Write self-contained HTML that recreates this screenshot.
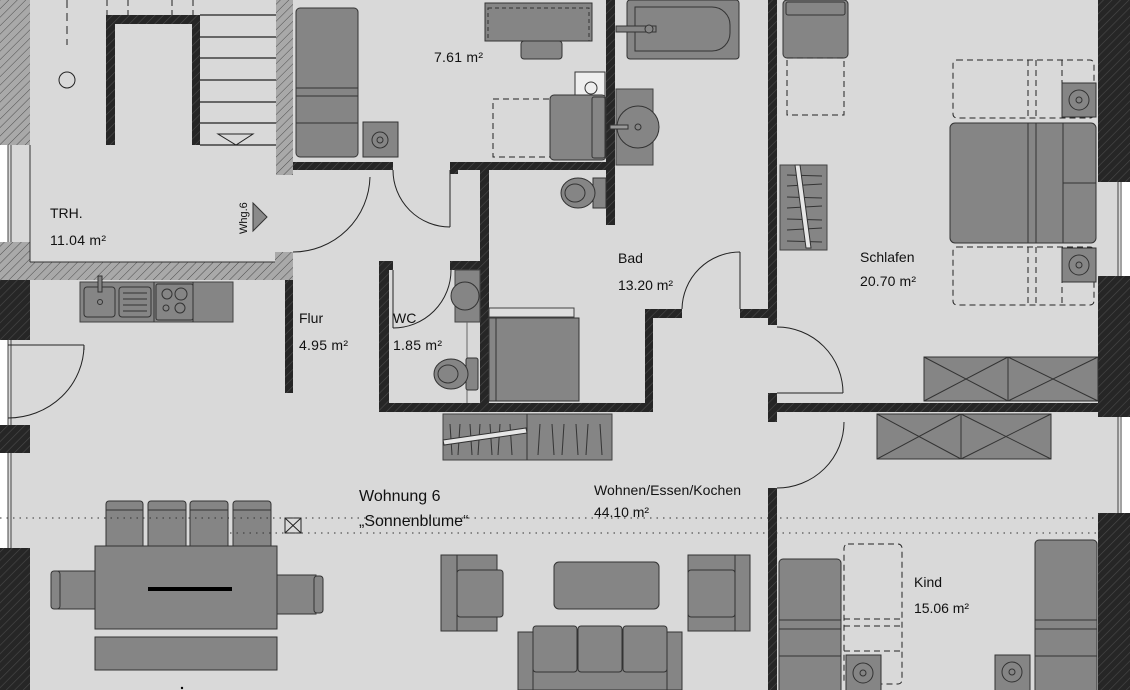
<!DOCTYPE html>
<html><head><meta charset="utf-8"><style>
html,body{margin:0;padding:0;background:#d9d9d9;}
svg{display:block;}
text{font-family:"Liberation Sans",sans-serif;fill:#111;}
</style></head><body>
<svg width="1130" height="690" viewBox="0 0 1130 690" xmlns="http://www.w3.org/2000/svg">
<defs>
<pattern id="dk" patternUnits="userSpaceOnUse" width="6" height="6" patternTransform="rotate(45)">
<rect width="6" height="6" fill="#262626"/><line x1="0" y1="0" x2="0" y2="6" stroke="#4a4a4a" stroke-width="1.2"/></pattern>
<pattern id="lt" patternUnits="userSpaceOnUse" width="6" height="6" patternTransform="rotate(45)">
<rect width="6" height="6" fill="#a9a9a9"/><line x1="0" y1="0" x2="0" y2="6" stroke="#4d4d4d" stroke-width="1"/></pattern>
</defs>
<rect width="1130" height="690" fill="#d9d9d9"/>

<!-- left exterior -->
<rect x="0" y="0" width="30" height="145" fill="url(#lt)"/>
<rect x="0" y="145" width="8" height="97" fill="#fff"/>
<line x1="8" y1="145" x2="8" y2="242" stroke="#444"/><line x1="11" y1="145" x2="11" y2="242" stroke="#444"/>
<rect x="0" y="242" width="30" height="38" fill="url(#lt)"/>
<rect x="30" y="262" width="263" height="18" fill="url(#lt)"/>
<rect x="275" y="252" width="18" height="28" fill="url(#lt)"/>
<line x1="30" y1="262" x2="275" y2="262" stroke="#333"/><line x1="30" y1="145" x2="30" y2="262" stroke="#333"/>
<rect x="0" y="280" width="30" height="60" fill="url(#dk)"/>
<rect x="0" y="340" width="8" height="85" fill="#fff"/>
<line x1="8" y1="340" x2="8" y2="425" stroke="#444"/><line x1="11" y1="340" x2="11" y2="425" stroke="#444"/>
<rect x="0" y="425" width="30" height="28" fill="url(#dk)"/>
<rect x="0" y="453" width="8" height="95" fill="#fff"/>
<line x1="8" y1="453" x2="8" y2="548" stroke="#444"/><line x1="11" y1="453" x2="11" y2="548" stroke="#444"/>
<rect x="0" y="548" width="30" height="142" fill="url(#dk)"/>

<!-- stair -->
<g stroke="#222" stroke-width="1.2">
<line x1="67" y1="0" x2="67" y2="45" stroke-dasharray="8,5" stroke-width="1"/>
<line x1="107" y1="0" x2="107" y2="15" stroke-dasharray="6,4" stroke-width="1"/>
<line x1="128" y1="0" x2="128" y2="15" stroke-dasharray="6,4" stroke-width="1"/>
<line x1="172" y1="0" x2="172" y2="15" stroke-dasharray="6,4" stroke-width="1"/>
<line x1="193" y1="0" x2="193" y2="15" stroke-dasharray="6,4" stroke-width="1"/>
<line x1="200" y1="15" x2="276" y2="15"/><line x1="200" y1="37" x2="276" y2="37"/>
<line x1="200" y1="58" x2="276" y2="58"/><line x1="200" y1="80" x2="276" y2="80"/>
<line x1="200" y1="102" x2="276" y2="102"/><line x1="200" y1="123" x2="276" y2="123"/>
<line x1="200" y1="145" x2="276" y2="145"/>
</g>
<circle cx="67" cy="80" r="8" fill="none" stroke="#222"/>
<polygon points="218,134 253,134 236,145" fill="none" stroke="#222"/>
<rect x="106" y="15" width="94" height="9" fill="url(#dk)"/>
<rect x="106" y="15" width="9" height="130" fill="url(#dk)"/>
<rect x="192" y="15" width="8" height="130" fill="url(#dk)"/>
<rect x="276" y="0" width="17" height="175" fill="url(#lt)"/>

<!-- fridge & washer -->
<rect x="296" y="8" width="62" height="149" rx="4" fill="#858585" stroke="#333"/>
<line x1="296" y1="88" x2="358" y2="88" stroke="#333"/><line x1="296" y1="96" x2="358" y2="96" stroke="#333"/><line x1="296" y1="123" x2="358" y2="123" stroke="#333"/>
<rect x="363" y="122" width="35" height="35" fill="#858585" stroke="#333"/>
<circle cx="380" cy="140" r="8" fill="none" stroke="#333"/><circle cx="380" cy="140" r="3" fill="none" stroke="#333"/>

<!-- walls interior -->
<g fill="url(#dk)">
<rect x="293" y="162" width="100" height="8"/>
<rect x="450" y="162" width="165" height="8"/>
<rect x="606" y="0" width="9" height="225"/>
<rect x="480" y="170" width="9" height="240"/>
<rect x="450" y="162" width="8" height="12"/>
<rect x="379" y="261" width="10" height="151"/>
<rect x="379" y="261" width="14" height="9"/>
<rect x="450" y="261" width="39" height="9"/>
<rect x="379" y="403" width="274" height="9"/>
<rect x="645" y="309" width="8" height="103"/>
<rect x="645" y="309" width="37" height="9"/>
<rect x="740" y="309" width="37" height="9"/>
<rect x="768" y="0" width="9" height="325"/>
<rect x="768" y="393" width="9" height="29"/>
<rect x="768" y="403" width="330" height="9"/>
<rect x="768" y="488" width="9" height="202"/>
<rect x="285" y="280" width="8" height="113"/>
</g>

<!-- doors -->
<g fill="none" stroke="#222" stroke-width="1">
<path d="M370,177 A77,77 0 0 1 293,252"/>
<path d="M393,170 A57,57 0 0 0 450,227"/><line x1="450" y1="170" x2="450" y2="227"/>
<path d="M393,328 A58,58 0 0 0 451,270"/><line x1="393" y1="270" x2="393" y2="328"/>
<path d="M682,309 A58,58 0 0 1 740,252"/><line x1="740" y1="252" x2="740" y2="309"/>
<path d="M777,327 A66,66 0 0 1 843,393"/><line x1="777" y1="393" x2="843" y2="393"/>
<path d="M844,422 A67,66 0 0 1 777,488"/>
<path d="M84,345 A76,73 0 0 1 8,418"/><line x1="84" y1="345" x2="8" y2="345"/><line x1="84" y1="345" x2="84" y2="350"/>
</g>

<!-- right exterior -->
<rect x="1098" y="0" width="32" height="182" fill="url(#dk)"/>
<rect x="1098" y="182" width="32" height="94" fill="#d9d9d9"/>
<rect x="1120" y="182" width="10" height="94" fill="#fff"/>
<line x1="1118" y1="182" x2="1118" y2="276" stroke="#444"/><line x1="1121" y1="182" x2="1121" y2="276" stroke="#444"/>
<rect x="1098" y="276" width="32" height="141" fill="url(#dk)"/>
<rect x="1120" y="417" width="10" height="96" fill="#fff"/>
<line x1="1118" y1="417" x2="1118" y2="513" stroke="#444"/><line x1="1121" y1="417" x2="1121" y2="513" stroke="#444"/>
<rect x="1098" y="513" width="32" height="177" fill="url(#dk)"/>

<!-- kitchen -->
<rect x="80" y="282" width="153" height="40" fill="#858585" stroke="#444"/>
<rect x="84" y="287" width="31" height="30" rx="3" fill="none" stroke="#333"/>
<circle cx="100" cy="302" r="2.5" fill="none" stroke="#333"/>
<rect x="98" y="276" width="4" height="16" fill="#858585" stroke="#333"/>
<rect x="119" y="287" width="32" height="30" rx="3" fill="none" stroke="#333"/>
<g stroke="#333"><line x1="123" y1="293" x2="147" y2="293"/><line x1="123" y1="299" x2="147" y2="299"/><line x1="123" y1="305" x2="147" y2="305"/><line x1="123" y1="311" x2="147" y2="311"/></g>
<line x1="154" y1="282" x2="154" y2="322" stroke="#333"/>
<rect x="156" y="284" width="37" height="36" rx="2" fill="none" stroke="#333"/>
<circle cx="167" cy="294" r="5" fill="none" stroke="#333"/><circle cx="181" cy="294" r="6" fill="none" stroke="#333"/>
<circle cx="166" cy="308" r="3" fill="none" stroke="#333"/><circle cx="180" cy="308" r="5" fill="none" stroke="#333"/>
<line x1="193" y1="282" x2="193" y2="322" stroke="#333"/>

<!-- office room furniture -->
<rect x="485" y="3" width="107" height="38" fill="#858585" stroke="#333"/>
<rect x="488" y="8" width="101" height="33" fill="none" stroke="#333" stroke-dasharray="4,3"/>
<rect x="521" y="41" width="41" height="18" rx="3" fill="#858585" stroke="#333"/>
<rect x="575" y="72" width="30" height="24" fill="#eee" stroke="#333"/>
<circle cx="591" cy="88" r="6" fill="#eee" stroke="#333"/>
<rect x="493" y="99" width="57" height="58" fill="none" stroke="#222" stroke-dasharray="6,4"/>
<rect x="550" y="95" width="56" height="65" rx="4" fill="#858585" stroke="#333"/>
<rect x="592" y="97" width="13" height="61" rx="2" fill="#858585" stroke="#333"/>

<!-- bathroom -->
<rect x="627" y="0" width="112" height="59" rx="3" fill="#858585" stroke="#333"/>
<path d="M635,7 H712 A18,18 0 0 1 730,25 V33 A18,18 0 0 1 712,51 H635 Z" fill="none" stroke="#333"/>
<rect x="616" y="26" width="40" height="6" fill="#858585" stroke="#333"/>
<circle cx="649" cy="29" r="4" fill="#858585" stroke="#333"/>
<rect x="616" y="89" width="37" height="76" fill="#858585" stroke="#444"/>
<circle cx="638" cy="127" r="21" fill="#858585" stroke="#333"/><circle cx="638" cy="127" r="3" fill="none" stroke="#333"/>
<rect x="610" y="125" width="18" height="4" fill="#999" stroke="#333"/>
<rect x="593" y="178" width="13" height="30" fill="#858585" stroke="#333"/>
<ellipse cx="578" cy="193" rx="17" ry="15" fill="#858585" stroke="#333"/>
<ellipse cx="575" cy="193" rx="10" ry="9" fill="none" stroke="#333"/>
<rect x="489" y="308" width="85" height="9" fill="#dedede" stroke="#444"/>
<rect x="489" y="318" width="90" height="83" fill="#858585" stroke="#333"/>
<line x1="496" y1="318" x2="496" y2="401" stroke="#333"/>

<!-- WC -->
<rect x="455" y="270" width="25" height="52" fill="#858585" stroke="#444"/>
<circle cx="465" cy="296" r="14" fill="#858585" stroke="#333"/>
<line x1="467" y1="322" x2="467" y2="403" stroke="#666"/>
<rect x="466" y="358" width="12" height="32" rx="2" fill="#858585" stroke="#333"/>
<ellipse cx="451" cy="374" rx="17" ry="15" fill="#858585" stroke="#333"/>
<ellipse cx="448" cy="374" rx="10" ry="9" fill="none" stroke="#333"/>

<!-- wardrobes -->
<rect x="443" y="414" width="169" height="46" fill="#858585" stroke="#444"/>
<line x1="527" y1="414" x2="527" y2="460" stroke="#333"/>
<g stroke="#333">
<line x1="450" y1="424" x2="452" y2="455"/><line x1="460" y1="424" x2="458" y2="455"/><line x1="470" y1="424" x2="472" y2="455"/><line x1="480" y1="424" x2="478" y2="455"/><line x1="490" y1="424" x2="492" y2="455"/><line x1="500" y1="424" x2="498" y2="455"/><line x1="510" y1="424" x2="512" y2="455"/>
<line x1="540" y1="424" x2="538" y2="455"/><line x1="552" y1="424" x2="554" y2="455"/><line x1="564" y1="424" x2="562" y2="455"/><line x1="576" y1="424" x2="578" y2="455"/><line x1="588" y1="424" x2="586" y2="455"/><line x1="600" y1="424" x2="602" y2="455"/>
</g>
<polygon points="443,440 526,428 527,433 444,445" fill="#e6e6e6" stroke="#333"/>
<rect x="780" y="165" width="47" height="85" fill="#858585" stroke="#444"/>
<g stroke="#333"><line x1="787" y1="175" x2="822" y2="176"/><line x1="787" y1="186" x2="822" y2="184"/><line x1="787" y1="197" x2="822" y2="198"/><line x1="787" y1="208" x2="822" y2="206"/><line x1="787" y1="219" x2="822" y2="220"/><line x1="787" y1="230" x2="822" y2="228"/><line x1="787" y1="241" x2="822" y2="242"/></g>
<polygon points="795,165 800,165 811,248 806,248" fill="#e6e6e6" stroke="#333"/>

<!-- bedroom -->
<rect x="783" y="0" width="65" height="58" rx="4" fill="#858585" stroke="#333"/>
<rect x="786" y="2" width="59" height="13" rx="2" fill="none" stroke="#333"/>
<rect x="787" y="58" width="57" height="57" fill="none" stroke="#222" stroke-dasharray="6,4"/>
<rect x="953" y="60" width="141" height="58" rx="4" fill="none" stroke="#222" stroke-dasharray="6,4"/>
<line x1="1028" y1="60" x2="1028" y2="118" stroke="#222" stroke-dasharray="6,4"/><line x1="1036" y1="60" x2="1036" y2="118" stroke="#222" stroke-dasharray="6,4"/><line x1="1062" y1="60" x2="1062" y2="118" stroke="#222" stroke-dasharray="6,4"/>
<rect x="953" y="247" width="141" height="58" rx="4" fill="none" stroke="#222" stroke-dasharray="6,4"/>
<line x1="1028" y1="247" x2="1028" y2="305" stroke="#222" stroke-dasharray="6,4"/><line x1="1036" y1="247" x2="1036" y2="305" stroke="#222" stroke-dasharray="6,4"/><line x1="1062" y1="247" x2="1062" y2="305" stroke="#222" stroke-dasharray="6,4"/>
<rect x="1062" y="83" width="34" height="34" fill="#858585" stroke="#333"/>
<circle cx="1079" cy="100" r="10" fill="none" stroke="#333"/><circle cx="1079" cy="100" r="3" fill="none" stroke="#333"/>
<rect x="1062" y="248" width="34" height="34" fill="#858585" stroke="#333"/>
<circle cx="1079" cy="265" r="10" fill="none" stroke="#333"/><circle cx="1079" cy="265" r="3" fill="none" stroke="#333"/>
<rect x="950" y="123" width="146" height="120" rx="5" fill="#858585" stroke="#333"/>
<g stroke="#333"><line x1="1028" y1="123" x2="1028" y2="243"/><line x1="1036" y1="123" x2="1036" y2="243"/><line x1="1063" y1="123" x2="1063" y2="243"/><line x1="1063" y1="183" x2="1096" y2="183"/></g>
<rect x="924" y="357" width="174" height="44" fill="#858585" stroke="#333"/>
<g stroke="#333" fill="none"><line x1="1008" y1="357" x2="1008" y2="401"/>
<path d="M924,357 L1008,401 M924,401 L1008,357 M1008,357 L1098,401 M1008,401 L1098,357"/></g>

<!-- Kind -->
<rect x="877" y="414" width="174" height="45" fill="#858585" stroke="#333"/>
<g stroke="#333" fill="none"><line x1="961" y1="414" x2="961" y2="459"/>
<path d="M877,414 L961,459 M877,459 L961,414 M961,414 L1051,459 M961,459 L1051,414"/></g>
<rect x="779" y="559" width="62" height="140" rx="4" fill="#858585" stroke="#333"/>
<g stroke="#333"><line x1="779" y1="620" x2="841" y2="620"/><line x1="779" y1="629" x2="841" y2="629"/><line x1="779" y1="656" x2="841" y2="656"/></g>
<rect x="844" y="544" width="58" height="140" rx="4" fill="none" stroke="#222" stroke-dasharray="6,4"/>
<g stroke="#222" stroke-dasharray="6,4"><line x1="844" y1="619" x2="902" y2="619"/><line x1="844" y1="626" x2="902" y2="626"/><line x1="844" y1="651" x2="902" y2="651"/></g>
<rect x="846" y="655" width="35" height="40" fill="#858585" stroke="#333"/>
<circle cx="863" cy="673" r="10" fill="none" stroke="#333"/><circle cx="863" cy="673" r="3" fill="none" stroke="#333"/>
<rect x="1035" y="540" width="62" height="160" rx="4" fill="#858585" stroke="#333"/>
<g stroke="#333"><line x1="1035" y1="620" x2="1097" y2="620"/><line x1="1035" y1="629" x2="1097" y2="629"/><line x1="1035" y1="656" x2="1097" y2="656"/></g>
<rect x="995" y="655" width="35" height="40" fill="#858585" stroke="#333"/>
<circle cx="1012" cy="672" r="10" fill="none" stroke="#333"/><circle cx="1012" cy="672" r="3" fill="none" stroke="#333"/>

<!-- dining -->
<g fill="#858585" stroke="#333">
<rect x="106" y="501" width="37" height="48" rx="3"/><rect x="148" y="501" width="38" height="48" rx="3"/><rect x="190" y="501" width="38" height="48" rx="3"/><rect x="233" y="501" width="38" height="48" rx="3"/>
<rect x="58" y="571" width="40" height="38"/><rect x="51" y="571" width="9" height="38" rx="3"/>
<rect x="274" y="575" width="42" height="39"/><rect x="314" y="576" width="9" height="37" rx="3"/>
<rect x="95" y="546" width="182" height="83"/>
<rect x="95" y="637" width="182" height="33"/>
</g>
<g stroke="#333"><line x1="106" y1="510" x2="143" y2="510"/><line x1="148" y1="510" x2="186" y2="510"/><line x1="190" y1="510" x2="228" y2="510"/><line x1="233" y1="510" x2="271" y2="510"/></g>
<rect x="148" y="587" width="84" height="4" fill="#000"/>
<rect x="285" y="518" width="16" height="15" fill="none" stroke="#222"/>
<path d="M285,518 L301,533 M301,518 L285,533" stroke="#222"/>
<g stroke="#333" stroke-dasharray="1.5,5"><line x1="0" y1="518" x2="1098" y2="518"/><line x1="230" y1="533" x2="1098" y2="533"/></g>
<circle cx="182" cy="688" r="1.2" fill="#000"/>

<!-- living -->
<g fill="#858585" stroke="#333">
<rect x="441" y="555" width="56" height="76"/><rect x="457" y="570" width="46" height="47" rx="3"/><line x1="457" y1="555" x2="457" y2="631"/>
<rect x="554" y="562" width="105" height="47" rx="5"/>
<rect x="688" y="555" width="62" height="76" /><rect x="688" y="570" width="47" height="47" rx="3"/><line x1="735" y1="555" x2="735" y2="631"/>
<rect x="518" y="632" width="164" height="58"/>
<rect x="533" y="626" width="44" height="46" rx="3"/><rect x="578" y="626" width="44" height="46" rx="3"/><rect x="623" y="626" width="44" height="46" rx="3"/>
<line x1="533" y1="632" x2="533" y2="690"/><line x1="667" y1="632" x2="667" y2="690"/>
</g>

<!-- labels -->
<g font-size="14">
<text x="434" y="62" textLength="49">7.61 m²</text>
<text x="50" y="218">TRH.</text>
<text x="50" y="245" textLength="56">11.04 m²</text>
<text x="299" y="323">Flur</text>
<text x="299" y="350" textLength="49">4.95 m²</text>
<text x="393" y="323">WC</text>
<text x="393" y="350" textLength="49">1.85 m²</text>
<text x="618" y="263">Bad</text>
<text x="618" y="290" textLength="55">13.20 m²</text>
<text x="860" y="262">Schlafen</text>
<text x="860" y="286" textLength="56">20.70 m²</text>
<text x="914" y="587">Kind</text>
<text x="914" y="613" textLength="55">15.06 m²</text>
<text x="594" y="495" textLength="147">Wohnen/Essen/Kochen</text>
<text x="594" y="517" textLength="55">44.10 m²</text>
</g>
<text x="359" y="501" font-size="16">Wohnung 6</text>
<text x="359" y="526" font-size="16">„Sonnenblume“</text>
<text x="0" y="0" font-size="11" transform="translate(247,234) rotate(-90)">Whg.6</text>
<polygon points="253,203 267,217 253,231" fill="#8a8a8a" stroke="#333"/>
</svg>
</body></html>
